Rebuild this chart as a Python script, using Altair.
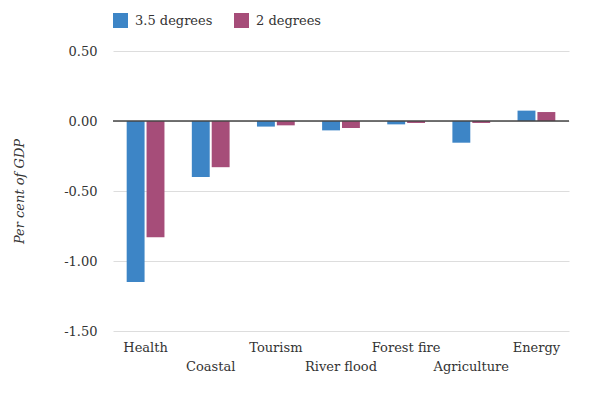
import altair as alt
import pandas as pd

categories = ["Health", "Coastal", "Tourism", "River flood", "Forest fire", "Agriculture", "Energy"]
deg35 = [-1.15, -0.40, -0.04, -0.067, -0.024, -0.155, 0.074]
deg2 = [-0.83, -0.33, -0.031, -0.05, -0.014, -0.014, 0.064]
series = ["3.5 degrees", "2 degrees"]
colors = ["#3d85c6", "#a64d79"]
y_ticks = [0.5, 0.0, -0.5, -1.0, -1.5]

rows = []
for c, a, b in zip(categories, deg35, deg2):
    rows.append({"cat": c, "series": series[0], "val": a})
    rows.append({"cat": c, "series": series[1], "val": b})
df = pd.DataFrame(rows)

FONT = "DejaVu Serif"
TXT = "#333333"

lower = ["Coastal", "River flood", "Agriculture"]
lower_list = "[" + ",".join("'" + s + "'" for s in lower) + "]"

bars = alt.Chart(df).mark_bar().encode(
    x=alt.X("cat:N", sort=categories,
            scale=alt.Scale(paddingInner=0.42, paddingOuter=0.21),
            axis=alt.Axis(title=None, labelAngle=0, ticks=False, domain=False,
                          labelPadding=10, labelLineHeight=19,
                          labelExpr="indexof(" + lower_list + ", datum.value) >= 0 ? ['', datum.label] : datum.label")),
    xOffset=alt.XOffset("series:N", sort=series, scale=alt.Scale(paddingInner=0.1)),
    y=alt.Y("val:Q", scale=alt.Scale(domain=[-1.5, 0.5], nice=False),
            axis=alt.Axis(title="Per cent of GDP", values=y_ticks, ticks=False, domain=False,
                          labelPadding=16, titlePadding=37, titleFontStyle="italic",
                          titleFontWeight="normal",
                          labelExpr="replace(format(datum.value, '.2f'), '\u2212', '-')",
                          gridColor="#dddddd", gridWidth=1.2)),
    color=alt.Color("series:N", sort=series,
                    scale=alt.Scale(domain=series, range=colors),
                    legend=alt.Legend(title=None, orient="none", legendX=0, legendY=-38,
                                      direction="horizontal", symbolType="square",
                                      symbolSize=225, symbolStrokeWidth=0,
                                      labelOffset=7, columnPadding=21)),
)

zero = alt.Chart(pd.DataFrame({"z": [0.0]})).mark_rule(color="#444444", strokeWidth=1.5).encode(
    y=alt.Y("z:Q")
)

chart = alt.layer(bars, zero).properties(width=456, height=280).configure_view(
    stroke=None
).configure_axis(
    labelFont=FONT, titleFont=FONT, labelFontSize=13, titleFontSize=13,
    labelColor=TXT, titleColor=TXT
).configure_legend(
    labelFont=FONT, labelFontSize=13, labelColor=TXT
)

chart.save("out.html", embed_options={"renderer": "svg", "actions": False})
